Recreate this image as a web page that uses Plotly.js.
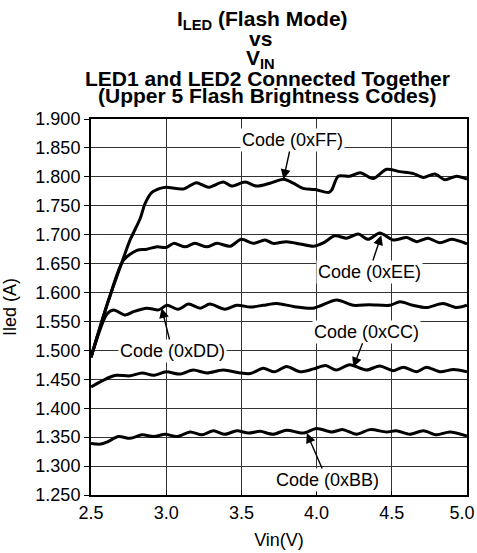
<!DOCTYPE html>
<html>
<head>
<meta charset="utf-8">
<script src="https://cdn.plot.ly/plotly-3.0.1.min.js"></script>
<style>html,body{margin:0;padding:0;background:#fff;}#chart{width:477px;height:553px;}</style>
</head>
<body>
<div id="chart"></div>
<script>
// ---- data ----
const xFF = [2.5, 2.617, 2.716, 2.76, 2.827, 2.86, 2.905, 2.96, 3.0, 3.115, 3.2, 3.28, 3.38, 3.435, 3.525, 3.60, 3.69, 3.78, 3.845, 3.91, 3.99, 4.08, 4.1, 4.144, 4.22, 4.29, 4.376, 4.465, 4.554, 4.64, 4.71, 4.786, 4.853, 4.93, 5.0];
const yFF = [1.488, 1.587, 1.660, 1.691, 1.728, 1.754, 1.773, 1.780, 1.782, 1.779, 1.790, 1.782, 1.791, 1.784, 1.791, 1.784, 1.789, 1.796, 1.789, 1.780, 1.778, 1.773, 1.777, 1.801, 1.801, 1.807, 1.797, 1.813, 1.809, 1.806, 1.799, 1.805, 1.795, 1.801, 1.796];

const xEE = [2.5, 2.617, 2.716, 2.805, 2.87, 2.94, 3.0, 3.05, 3.126, 3.19, 3.27, 3.337, 3.425, 3.50, 3.58, 3.657, 3.71, 3.80, 3.89, 3.978, 4.045, 4.122, 4.2, 4.277, 4.343, 4.42, 4.509, 4.6, 4.665, 4.74, 4.82, 4.897, 5.0];
const yEE = [1.488, 1.587, 1.656, 1.673, 1.675, 1.679, 1.678, 1.685, 1.679, 1.685, 1.679, 1.685, 1.680, 1.692, 1.685, 1.691, 1.685, 1.688, 1.684, 1.680, 1.686, 1.698, 1.694, 1.701, 1.692, 1.703, 1.691, 1.695, 1.688, 1.694, 1.686, 1.692, 1.684];

const xDD = [2.5, 2.606, 2.65, 2.728, 2.783, 2.872, 2.95, 3.005, 3.08, 3.148, 3.226, 3.29, 3.39, 3.47, 3.558, 3.646, 3.735, 3.845, 3.978, 4.133, 4.244, 4.35, 4.487, 4.554, 4.64, 4.73, 4.84, 4.93, 5.0];
const yDD = [1.488, 1.563, 1.570, 1.561, 1.567, 1.573, 1.570, 1.578, 1.571, 1.580, 1.573, 1.580, 1.571, 1.578, 1.575, 1.578, 1.581, 1.576, 1.573, 1.587, 1.578, 1.579, 1.578, 1.584, 1.578, 1.574, 1.581, 1.574, 1.578];

const xCC = [2.5, 2.565, 2.628, 2.67, 2.76, 2.84, 2.916, 3.0, 3.09, 3.18, 3.27, 3.38, 3.49, 3.56, 3.645, 3.72, 3.80, 3.89, 3.98, 4.06, 4.13, 4.22, 4.33, 4.42, 4.51, 4.576, 4.665, 4.73, 4.82, 4.91, 5.0];
const yCC = [1.437, 1.446, 1.454, 1.457, 1.456, 1.461, 1.457, 1.463, 1.459, 1.466, 1.461, 1.466, 1.461, 1.460, 1.469, 1.463, 1.472, 1.463, 1.468, 1.474, 1.466, 1.475, 1.466, 1.473, 1.465, 1.471, 1.463, 1.471, 1.463, 1.467, 1.463];

const xBB = [2.5, 2.565, 2.61, 2.683, 2.76, 2.84, 2.916, 2.993, 3.07, 3.16, 3.237, 3.314, 3.39, 3.47, 3.547, 3.624, 3.71, 3.80, 3.91, 4.0, 4.1, 4.177, 4.266, 4.355, 4.465, 4.53, 4.62, 4.71, 4.797, 4.886, 5.0];
const yBB = [1.339, 1.338, 1.342, 1.351, 1.348, 1.354, 1.351, 1.355, 1.351, 1.359, 1.354, 1.361, 1.355, 1.361, 1.357, 1.360, 1.355, 1.362, 1.357, 1.365, 1.359, 1.363, 1.355, 1.363, 1.359, 1.361, 1.355, 1.361, 1.354, 1.359, 1.352];

// label texts, arrow tips and label centres (data units)
const labelText = ['Code (0xFF)', 'Code (0xEE)', 'Code (0xDD)', 'Code (0xCC)', 'Code (0xBB)'];
const tipX = [3.78, 4.43, 2.97, 4.244, 3.935];
const tipY = [1.796, 1.699, 1.573, 1.471, 1.357];
const boxX = [3.837, 4.349, 3.041, 4.335, 4.07];
const boxY = [1.8637, 1.6355, 1.499, 1.532, 1.276];

const xTicks = [2.5, 3.0, 3.5, 4.0, 4.5, 5.0];
const xTickText = ['2.5', '3.0', '3.5', '4.0', '4.5', '5.0\u00a0\u00a0'];
const yTicks = [1.25, 1.30, 1.35, 1.40, 1.45, 1.50, 1.55, 1.60, 1.65, 1.70, 1.75, 1.80, 1.85, 1.90];

const titleLines = ['I<sub>LED</sub> (Flash Mode)', 'vs', 'V<sub>IN</sub>', 'LED1 and LED2 Connected Together', '(Upper 5 Flash Brightness Codes)'];

// ---- build ----
const FONT = 'Liberation Sans, Arial, Helvetica, sans-serif';
const series = [[xFF, yFF], [xEE, yEE], [xDD, yDD], [xCC, yCC], [xBB, yBB]];
const traces = series.map((s, i) => ({
  x: s[0], y: s[1], type: 'scatter', mode: 'lines', name: labelText[i],
  line: {color: '#000', width: 3, shape: 'spline', smoothing: 0.8},
  hoverinfo: 'skip'
}));

const annotations = labelText.map((t, i) => ({
  text: t, x: tipX[i], y: tipY[i], ax: boxX[i], ay: boxY[i],
  xref: 'x', yref: 'y', axref: 'x', ayref: 'y',
  showarrow: true, arrowhead: 2, arrowsize: 1.4, arrowwidth: 1.4, arrowcolor: '#000',
  bgcolor: '#fff', borderpad: 1,
  font: {family: FONT, size: 18, color: '#000'}
}));

const titleX = [0.457, 0.452, 0.452, 0.469, 0.467];
const titleY = [1.262, 1.214, 1.160, 1.108, 1.062];
titleLines.forEach((t, i) => {
  annotations.push({
    text: '<b>' + t + '</b>', xref: 'paper', yref: 'paper', x: titleX[i], y: titleY[i],
    xanchor: 'center', yanchor: 'middle', showarrow: false, borderpad: 0,
    font: {family: FONT, size: 21, color: '#000'}
  });
});

const layout = {
  width: 477, height: 553,
  margin: {l: 91, r: 10, t: 119, b: 58},
  paper_bgcolor: '#fff', plot_bgcolor: '#fff',
  showlegend: false,
  font: {family: FONT, size: 18, color: '#000'},
  xaxis: {
    range: [2.5, 5.0], tickvals: xTicks, ticktext: xTickText,
    ticklabeloverflow: 'allow',
    showgrid: true, gridcolor: '#333', gridwidth: 1,
    showline: true, linecolor: '#000', linewidth: 2, mirror: true,
    ticks: 'inside', ticklen: 4, tickcolor: '#000', zeroline: false,
    tickfont: {family: FONT, size: 18},
    title: {text: 'Vin(V)', font: {family: FONT, size: 18}, standoff: 12}
  },
  yaxis: {
    range: [1.25, 1.9], tickvals: yTicks, tickformat: '.3f',
    ticklabeloverflow: 'allow',
    showgrid: true, gridcolor: '#333', gridwidth: 1,
    showline: true, linecolor: '#000', linewidth: 2, mirror: true,
    ticks: 'outside', ticklen: 5, tickcolor: '#000', zeroline: false,
    tickfont: {family: FONT, size: 18},
    title: {text: 'Iled (A)', font: {family: FONT, size: 18}, standoff: 16}
  },
  annotations: annotations
};

Plotly.newPlot('chart', traces, layout, {displayModeBar: false, staticPlot: true});
</script>
</body>
</html>
